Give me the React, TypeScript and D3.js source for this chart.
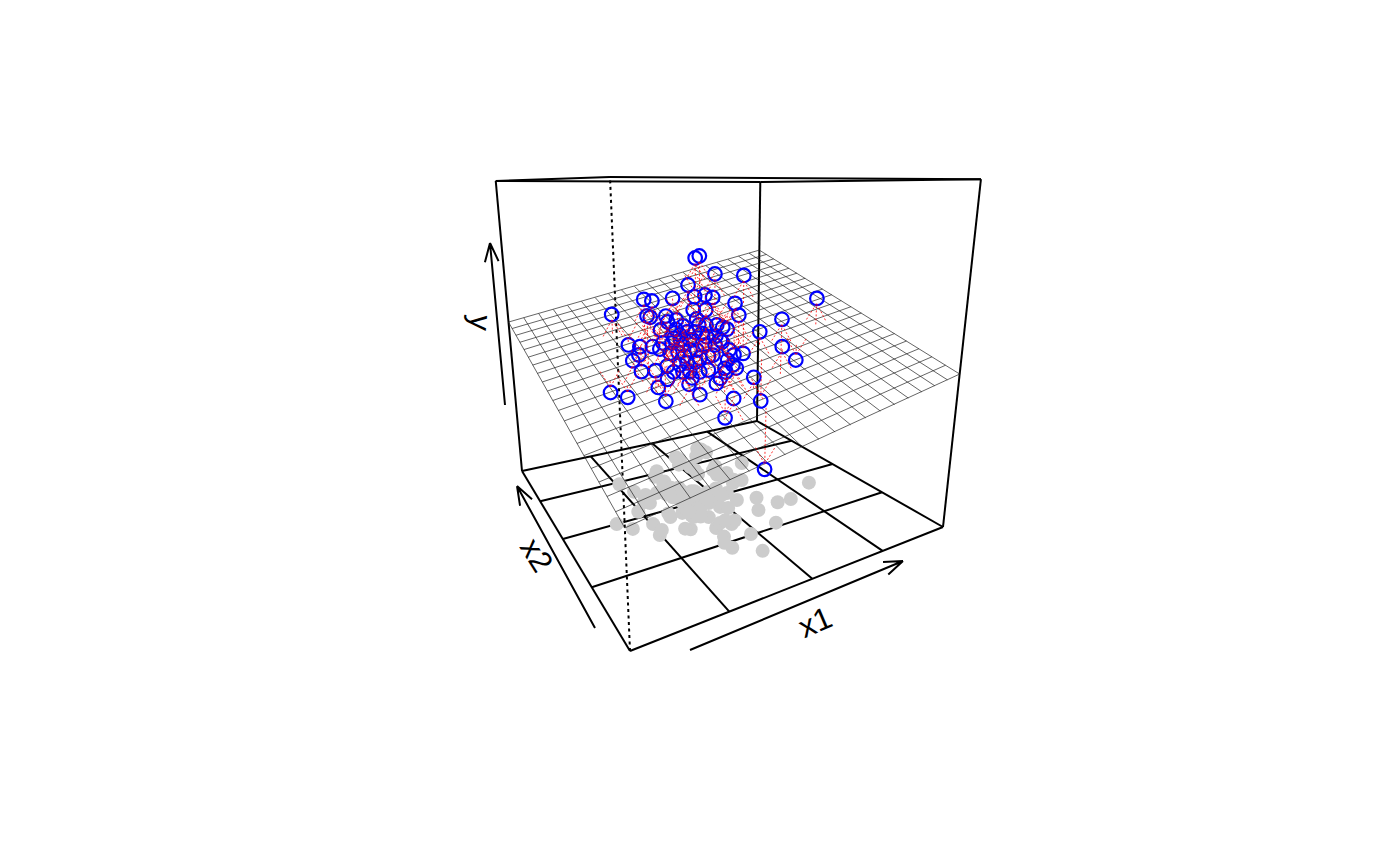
import React from "react";
import * as d3 from "d3";

type Pt = [number, number];

// predictors and response
const x1Values = [1.05, 1.12, 0.91, 1.7, 2.64, 0.26, 0.76, 1.15, 0.73, 0.93, -1.61, -0.7, 0.19, -1.91, -1.96, -0.89, -0.83, -0.3, 0.4, 0.63, 0.23, 0.04, -0.79, -0.6, 0.68, 0.75, 0.97, 0.91, 1.25, 1.65, -1.73, -1.59, -1.24, -1.73, -2.04, -1.54, -2.02, -1.46, -1.89, -2.71, -2.46, -1.43, -0.81, -1.29, -0.74, -0.55, -0.77, 0.81, 1.11, -0.84, -0.17, 0.6, -0.89, -0.32, -0.06, -0.16, -0.48, -0.97, -1.12, -0.98, -0.65, 0.37, -0.31, -0.88, -0.44, -0.4, -0.72, -0.86, 1.01, -0.8, 0.02, -0.81, -0.26, 0.21, -0.96, -0.33, -0.6, -1.39, 0.05, -0.94, 0.24, -0.97, -0.79, -0.72, -0.01, 0.19, -0.78, -0.85, -0.33, -0.18, -0.95, -0.32, -1.05, -0.26, -0.9, 0.28, -0.78, -0.61, -0.38, -0.51];
const x2Values = [2.94, 2.82, 1.58, 1.38, -0.59, 1.89, 2.46, 2.56, 1.39, 0.59, 0.54, 2.12, 2.7, 1.89, -0.43, 1.83, 1.01, -0.07, -0.43, -1.84, 1.37, 2.19, 1.43, 0.93, 1.09, 0.9, 1.04, -0.58, -1.05, -1.08, 1.3, 0.91, 0.94, 0.65, 0.28, 0.98, -0.94, -0.34, -0.77, 0.0, -0.39, -0.16, -0.69, -1.08, -1.33, -1.18, -1.74, 0.43, 0.46, -2.22, -1.96, -1.13, -1.96, -2.66, 0.32, -0.52, 0.05, 0.52, -0.31, -0.53, -0.81, 0.02, -0.21, 0.12, -0.13, 0.57, 0.32, 0.63, 2.69, -0.07, 0.04, -0.49, 0.05, 2.46, -0.24, 0.53, -0.31, -0.99, 0.2, 0.76, 0.38, -0.62, -0.66, 0.3, -0.67, -0.01, 0.68, 1.37, -1.36, -1.26, -0.34, 0.42, 0.74, -0.01, 0.48, 1.65, 1.02, 0.69, -1.14, 0.35];
const yValues = [2.36, 2.44, 2.0, 1.91, 1.39, 1.64, 1.08, 1.08, 1.26, 1.2, 1.63, 1.16, 1.04, 0.91, 1.4, 0.7, 0.92, 1.28, 1.11, 1.28, 0.6, 0.4, 0.36, 0.48, 0.4, 0.36, 0.23, 0.56, 0.17, -0.31, 0.05, 0.08, 0.02, -0.08, -0.09, -0.75, 0.01, -0.56, -0.56, -0.82, -0.87, -1.31, -1.04, -0.48, -0.48, -0.42, 0.1, -0.45, -0.46, -0.56, -0.2, -1.38, -1.2, -2.52, 0.32, 0.46, 0.04, -0.12, -0.2, -0.36, -0.28, -0.42, -0.12, 0.4, 0.6, 0.2, 0.16, 0.16, -0.03, 0.68, 0.12, -0.11, 0.16, -0.85, 0.02, 0.2, -0.08, -0.13, -0.26, -0.61, 0.28, -0.52, -0.36, 0.76, 0.17, 0.2, 0.29, -0.25, -0.01, -0.16, -0.16, 0.48, 0.16, 0.8, -0.72, 0.84, 0.72, 0.36, -0.28, -0.04];

// fitted plane height at the corners (x1,x2): (lo,lo) (hi,lo) (lo,hi) (hi,hi)
const planeCorners = [-1.98, -0.25, 0.44, 2.34];
const floorTicks = [-2, 0, 2];
const planeGrid = d3.range(-4, 4.01, 0.4);

const x1Scale = d3.scaleLinear().domain([-4, 4]).range([0, 1]);
const x2Scale = d3.scaleLinear().domain([-4, 4]).range([0, 1]);
const yScale = d3.scaleLinear().domain([-5, 5]).range([0, 1]);

// perspective view fitted to the box corners on screen
const homography = (p0: Pt, p1: Pt, p2: Pt, p3: Pt) => {
  const sx = p0[0] - p1[0] + p2[0] - p3[0];
  const sy = p0[1] - p1[1] + p2[1] - p3[1];
  const d1 = [p1[0] - p2[0], p1[1] - p2[1]];
  const d2 = [p3[0] - p2[0], p3[1] - p2[1]];
  const det = d1[0] * d2[1] - d2[0] * d1[1];
  const g = (sx * d2[1] - d2[0] * sy) / det;
  const h = (d1[0] * sy - sx * d1[1]) / det;
  return [
    p1[0] - p0[0] + g * p1[0], p3[0] - p0[0] + h * p3[0], p0[0],
    p1[1] - p0[1] + g * p1[1], p3[1] - p0[1] + h * p3[1], p0[1],
    g, h, 1,
  ];
};
const floorView = homography([630, 651], [943, 527], [757, 421], [522, 471]);
const lidW = 0.81;
const up = [610 * lidW - 630, 177 * lidW - 651, lidW - 1];

const project = (x1: number, x2: number, y: number): Pt => {
  const s = x1Scale(x1), t = x2Scale(x2), v = yScale(y);
  const m = floorView;
  const w = m[6] * s + m[7] * t + 1 + v * up[2];
  return [
    (m[0] * s + m[1] * t + m[2] + v * up[0]) / w + v * (2 * s - t - 2 * s * t),
    (m[3] * s + m[4] * t + m[5] + v * up[1]) / w - v * (9.5 * s + 2.4 * t - 4.3 * s * t),
  ];
};

const planeY = (x1: number, x2: number) => {
  const s = x1Scale(x1), t = x2Scale(x2);
  return (1 - s) * (1 - t) * planeCorners[0] + s * (1 - t) * planeCorners[1] +
    (1 - s) * t * planeCorners[2] + s * t * planeCorners[3];
};

const line = d3.line<Pt>();
const [xLo, xHi] = x1Scale.domain();
const [yLo, yHi] = yScale.domain();

const seg = (a: Pt, b: Pt) => line([a, b]) as string;

const boxPaths = [
  seg(project(xLo, xLo, yLo), project(xHi, xLo, yLo)),
  seg(project(xHi, xLo, yLo), project(xHi, xHi, yLo)),
  seg(project(xHi, xHi, yLo), project(xLo, xHi, yLo)),
  seg(project(xLo, xHi, yLo), project(xLo, xLo, yLo)),
  seg(project(xLo, xLo, yHi), project(xHi, xLo, yHi)),
  seg(project(xHi, xLo, yHi), project(xHi, xHi, yHi)),
  seg(project(xHi, xHi, yHi), project(xLo, xHi, yHi)),
  seg(project(xLo, xHi, yHi), project(xLo, xLo, yHi)),
  seg(project(xHi, xLo, yLo), project(xHi, xLo, yHi)),
  seg(project(xHi, xHi, yLo), project(xHi, xHi, yHi)),
  seg(project(xLo, xHi, yLo), project(xLo, xHi, yHi)),
];

const floorPaths = floorTicks.flatMap((k) => [
  seg(project(k, xLo, yLo), project(k, xHi, yLo)),
  seg(project(xLo, k, yLo), project(xHi, k, yLo)),
]);

const planePaths = planeGrid.flatMap((k) => [
  seg(project(k, xLo, planeY(k, xLo)), project(k, xHi, planeY(k, xHi))),
  seg(project(xLo, k, planeY(xLo, k)), project(xHi, k, planeY(xHi, k))),
]);

// residual arrows, plane to point
const rotate = (d: Pt, a: number): Pt => [
  d[0] * Math.cos(a) - d[1] * Math.sin(a),
  d[0] * Math.sin(a) + d[1] * Math.cos(a),
];
const arrowPath = (from: Pt, to: Pt, back: number, len: number, deg: number) => {
  const n = Math.hypot(to[0] - from[0], to[1] - from[1]) || 1;
  const d: Pt = [(from[0] - to[0]) / n, (from[1] - to[1]) / n];
  const tip: Pt = [to[0] + d[0] * back, to[1] + d[1] * back];
  const a = rotate(d, (deg * Math.PI) / 180);
  const b = rotate(d, (-deg * Math.PI) / 180);
  return [
    seg(from, tip),
    seg([tip[0] + a[0] * len, tip[1] + a[1] * len], tip),
    seg([tip[0] + b[0] * len, tip[1] + b[1] * len], tip),
  ].join("");
};

const shadows = x1Values.map((x, i) => project(x, x2Values[i], yLo));
const points = x1Values.map((x, i) => project(x, x2Values[i], yValues[i]));
const residuals = x1Values.map((x, i) =>
  arrowPath(project(x, x2Values[i], planeY(x, x2Values[i])), points[i], 5, 19, 30)
);

const axisLabels = [
  { text: "x1", from: [690, 650] as Pt, to: [903, 561] as Pt, at: [815, 622], rot: -23 },
  { text: "x2", from: [595, 628] as Pt, to: [517, 486] as Pt, at: [537, 555], rot: 58 },
  { text: "y", from: [505, 405] as Pt, to: [490, 243] as Pt, at: [481, 323], rot: 95 },
];

export default function App() {
  return (
    <svg
      width={1400}
      height={866}
      style={{ position: "absolute", left: 0, top: 0, background: "#fff" }}
    >
      <g fill="none" stroke="#000" strokeWidth={2}>
        {boxPaths.map((d, i) => <path key={i} d={d} />)}
        {floorPaths.map((d, i) => <path key={i} d={d} />)}
        <path
          d={seg(project(xLo, xLo, yLo), project(xLo, xLo, yHi))}
          strokeDasharray="3 3.5"
        />
      </g>
      <g fill="#CCCCCC">
        {shadows.map((p, i) => <circle key={i} cx={p[0]} cy={p[1]} r={7} />)}
      </g>
      <g fill="none" stroke="#222" strokeWidth={0.7}>
        {planePaths.map((d, i) => <path key={i} d={d} />)}
      </g>
      <g fill="none" stroke="#0000FF" strokeWidth={2.2}>
        {points.map((p, i) => <circle key={i} cx={p[0]} cy={p[1]} r={6.8} />)}
      </g>
      <g fill="none" stroke="#FF0000" strokeWidth={0.8} strokeDasharray="2 2">
        {residuals.map((d, i) => <path key={i} d={d} />)}
      </g>
      <g fill="none" stroke="#000" strokeWidth={2}>
        {axisLabels.map((a) => (
          <path key={a.text} d={arrowPath(a.from, a.to, 0, 20, 20)} />
        ))}
      </g>
      {axisLabels.map((a) => (
        <text
          key={a.text}
          transform={`translate(${a.at[0]},${a.at[1]}) rotate(${a.rot})`}
          textAnchor="middle"
          dy="0.35em"
          fontFamily="Liberation Sans"
          fontSize={31}
          fill="#000"
        >
          {a.text}
        </text>
      ))}
    </svg>
  );
}
